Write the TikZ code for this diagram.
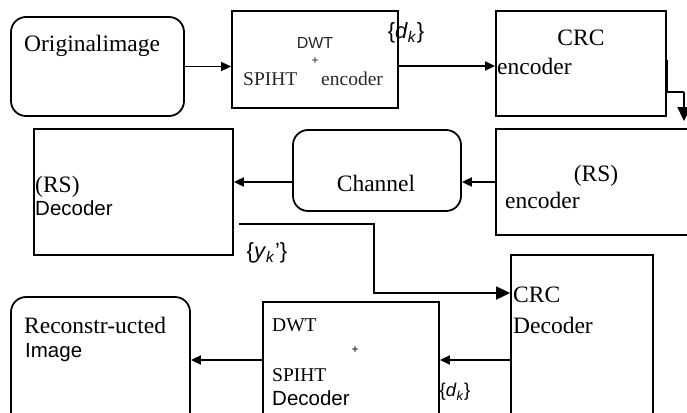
\documentclass[tikz,border=0pt]{standalone}
\usepackage{fontspec}
\setmainfont{Liberation Serif}
\setsansfont{Liberation Sans}
\usetikzlibrary{arrows.meta}
\tikzset{
  box/.style={draw, line width=1.8pt, minimum width=#1, inner sep=0pt},
  rbox/.style={draw, line width=1.8pt, rounded corners=15pt, inner sep=0pt},
  arr/.style={line width=1.8pt, -{Triangle[length=10pt,width=9pt]}},
  bigarr/.style={line width=1.8pt, -{Triangle[length=14pt,width=13pt]}},
  big/.style={font=\fontsize{23.5}{26}\selectfont, inner sep=0pt},
  mid/.style={font=\fontsize{19.5}{22}\selectfont, inner sep=0pt},
  sansl/.style={font=\sffamily\fontsize{20.5}{23}\selectfont, inner sep=0pt},
  sanss/.style={font=\sffamily\fontsize{16}{18}\selectfont, inner sep=0pt},
  lab/.style={font=\sffamily\fontsize{22}{24}\selectfont, inner sep=0pt},
  labs/.style={font=\sffamily\fontsize{18.5}{20}\selectfont, inner sep=0pt},
  plus/.style={font=\sffamily\fontsize{12}{14}\selectfont, inner sep=0pt},
}
\begin{document}
\begin{tikzpicture}[x=1pt,y=-1pt]
\useasboundingbox (0,0) rectangle (687,412);
\clip (0,0) rectangle (687,412);
% boxes
\node[rbox, minimum width=173pt, minimum height=99pt] (orig) at (97.5,66.5) {};
\node[box=166pt, minimum height=97pt] (dwt) at (315,59.5) {};
\node[box=170pt, minimum height=105pt] (crce) at (581,63.5) {};
\node[box=224pt, minimum height=106pt] (rse) at (608,182) {};
\node[rbox, minimum width=168pt, minimum height=81pt] (chan) at (377,170.5) {};
\node[box=199pt, minimum height=126pt] (rsd) at (133.5,192) {};
\node[box=142pt, minimum height=195pt] (crcd) at (582,352.5) {};
\node[box=176pt, minimum height=148pt] (dwtd) at (351,376) {};
\node[rbox, minimum width=179pt, minimum height=153pt] (rec) at (100.5,373.5) {};
% texts
\node[big, anchor=west] (torig) at (24,46) {Originalimage};
\node[sanss, text=black!85] (tdwt) at (315,43) {DWT};
\node[plus, text=black!85] (tplus) at (315,61) {+};
\node[mid, anchor=west, text=black!85] (tspiht) at (243,79) {SPIHT};
\node[mid, anchor=west, text=black!85] (tenc) at (321,79) {encoder};
\node[lab] (dk1) at (406,33) {\{\textit{d}\textsubscript{\textit{k}}\}};
\node[big] (tcrc) at (581,38) {CRC};
\node[big, anchor=west] (tcrcenc) at (497,66) {encoder};
\node[big] (trs) at (596,176) {(RS)};
\node[big, anchor=west] (trsenc) at (505,200) {encoder};
\node[big] (tchan) at (376,183) {Channel};
\node[big, anchor=west] (trsd) at (35,187) {(RS)};
\node[sansl, anchor=west] (trsdec) at (35,208) {Decoder};
\node[lab] (yk) at (267,253) {\{\textit{y}\textsubscript{\textit{k}}'\}};
\node[big, anchor=west] (tcrcd) at (513,295) {CRC};
\node[big, anchor=west] (tcrcdec) at (513,325) {Decoder};
\node[mid, anchor=west] (tdwtd) at (272,325) {DWT};
\node[plus] (tplus2) at (355,350) {+};
\node[mid, anchor=west] (tspihtd) at (272,375) {SPIHT};
\node[sansl, anchor=west] (tdec) at (272,398) {Decoder};
\node[labs] (dk2) at (455,392) {\{\textit{d}\textsubscript{\textit{k}}\}};
\node[big, anchor=west] (trec) at (24,325) {Reconstr-ucted};
\node[sansl, anchor=west] (timg) at (25,353) {Image};
% connectors
\draw[arr] (orig.east) -- (dwt.west |- orig.east);
\draw[arr] ([yshift=-6.5pt]dwt.east) -- ([yshift=-2.5pt]crce.west);
\coordinate (c1) at (684,92);
\draw[line width=2.4pt] ([yshift=3.5pt]crce.east) |- (c1);
\draw[bigarr] (c1) -- ([xshift=76pt,yshift=7pt]rse.north);
\draw[arr] (rse.west) -- (chan.east |- rse.west);
\draw[arr] (chan.west |- rse.west) -- (rsd.east |- rse.west);
\coordinate (c2) at (374,293);
\draw[bigarr] ([xshift=5pt,yshift=-32pt]rsd.east) -| (c2) -- ([yshift=59.5pt]crcd.west);
\draw[arr] ([yshift=-7.5pt]crcd.west) -- ([yshift=16pt]dwtd.east);
\draw[arr] ([yshift=16pt]dwtd.west) -- ([yshift=13.5pt]rec.east);
\end{tikzpicture}
\end{document}
